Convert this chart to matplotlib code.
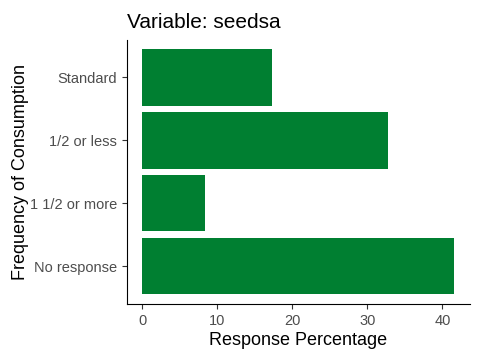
import matplotlib
matplotlib.use("Agg")
import matplotlib.pyplot as plt

categories = ["No response", "1 1/2 or more", "1/2 or less", "Standard"]
percentages = [41.6, 8.4, 32.7, 17.3]

plt.rcParams["font.family"] = ["Liberation Sans", "DejaVu Sans"]

fig = plt.figure(figsize=(4.8, 3.6), dpi=100)
ax = fig.add_axes([0.264, 0.156, 0.715, 0.734])

pos = list(range(1, len(categories) + 1))
ax.barh(pos, percentages, height=0.9, color="#007F31")

ax.set_yticks(pos)
ax.set_yticklabels(categories)
ax.set_xticks([0, 10, 20, 30, 40])
ax.set_ylim(0.4, len(categories) + 0.6)
top = max(percentages)
ax.set_xlim(-0.05 * top, top * 1.05)

ax.spines["top"].set_visible(False)
ax.spines["right"].set_visible(False)
ax.tick_params(colors="#333333", labelcolor="#4D4D4D", labelsize=10.5, length=3.5)

ax.set_xlabel("Response Percentage", fontsize=13, labelpad=3)
ax.set_ylabel("Frequency of Consumption", fontsize=13, labelpad=0.5)
ax.set_title("Variable: seedsa", fontsize=15, loc="left", pad=8)

fig.savefig("out.png", dpi=100)
